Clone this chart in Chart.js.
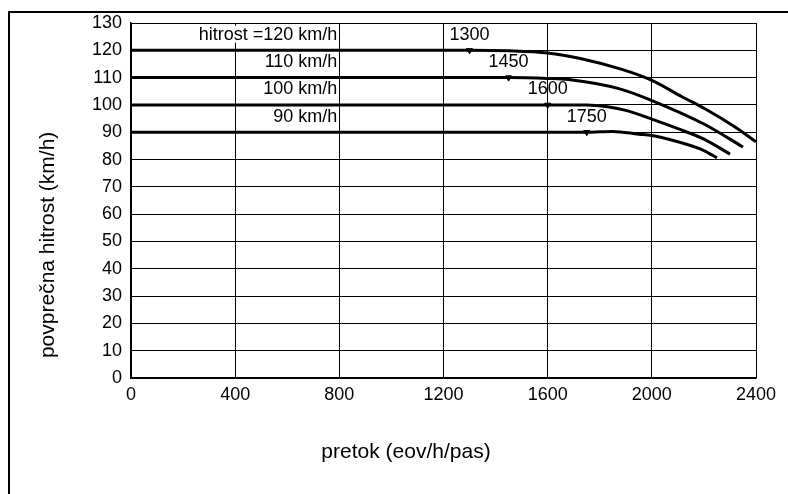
<!DOCTYPE html>
<html>
<head>
<meta charset="utf-8">
<style>
  html, body { margin: 0; padding: 0; background: #fff; }
  #wrap { width: 788px; height: 494px; position: relative; }
</style>
<script src="https://cdn.jsdelivr.net/npm/chart.js@4.4.1/dist/chart.umd.min.js"></script>
</head>
<body>
<div id="wrap"><canvas id="c" width="788" height="494"></canvas></div>
<script>
// Speed-flow curves for basic freeway segments, one per free-flow speed
const freeFlowSpeeds = [120, 110, 100, 90];
const breakpoints = [1300, 1450, 1600, 1750];
const speedLabels = ['hitrost =120 km/h', '110 km/h', '100 km/h', '90 km/h'];

const flow120 = [0, 1300, 1450, 1600, 1725, 1885, 2000, 2116, 2204, 2318, 2400];
const speed120 = [120, 120, 119.8, 119, 117, 113, 109, 103, 98.6, 92, 86.5];

const flow110 = [0, 1450, 1600, 1680, 1880, 2000, 2200, 2350];
const speed110 = [110, 110, 109.7, 109.3, 105.8, 101.6, 93, 84.6];

const flow100 = [0, 1600, 1750, 1830, 1900, 2000, 2100, 2200, 2300];
const speed100 = [100, 100, 100, 99.3, 98, 94.8, 91.3, 87.5, 82];

const flow90 = [0, 1750, 1850, 1950, 2000, 2100, 2200, 2250];
const speed90 = [90, 90, 90.3, 89.3, 88.8, 86.5, 83.3, 80.6];

const xTicks = [0, 400, 800, 1200, 1600, 2000, 2400];
const yMax = 130;

const FONT = '"Liberation Sans", Arial, sans-serif';

function toPoints(xs, ys) {
  return xs.map((x, i) => ({ x: x, y: ys[i] }));
}

function curve(xs, ys) {
  return {
    data: toPoints(xs, ys),
    borderColor: '#000',
    borderWidth: 3,
    pointRadius: 0,
    cubicInterpolationMode: 'monotone',
    fill: false
  };
}

// page frame, background and axis titles
const framePlugin = {
  id: 'frame',
  beforeDraw(chart) {
    const c = chart.ctx;
    c.save();
    c.fillStyle = '#fff';
    c.fillRect(0, 0, chart.width, chart.height);
    c.fillStyle = '#000';
    c.fillRect(8, 11, 2, chart.height - 11);
    c.fillRect(8, 11, chart.width - 8, 2);
    c.restore();
  },
  afterDraw(chart) {
    const a = chart.chartArea;
    const c = chart.ctx;
    c.save();
    c.fillStyle = '#000';
    c.font = '21px ' + FONT;
    c.textAlign = 'center';
    c.textBaseline = 'middle';
    c.fillText('pretok (eov/h/pas)', a.left + (a.right - a.left) * 0.44, a.bottom + 74);
    c.translate(48, a.top + (a.bottom - a.top) * 0.625);
    c.rotate(-Math.PI / 2);
    c.fillText('povprečna hitrost (km/h)', 0, 0);
    c.restore();
  }
};

// curve names and breakpoint flows written above each curve
const labelPlugin = {
  id: 'curveLabels',
  afterDatasetsDraw(chart) {
    const xs = chart.scales.x, ys = chart.scales.y;
    const c = chart.ctx;
    c.save();
    c.font = '18px ' + FONT;
    c.textBaseline = 'middle';
    freeFlowSpeeds.forEach((s, i) => {
      const y = ys.getPixelForValue(s + 5.7);
      const right = xs.getPixelForValue(800) - 2;
      const w = c.measureText(speedLabels[i]).width;
      c.fillStyle = '#fff';
      c.fillRect(right - w - 1, y - 9, w + 1, 17);
      c.fillStyle = '#000';
      c.textAlign = 'right';
      c.fillText(speedLabels[i], right, y);
      c.textAlign = 'center';
      c.fillText(String(breakpoints[i]), xs.getPixelForValue(breakpoints[i]), y);
    });
    c.restore();
  }
};

new Chart(document.getElementById('c'), {
  type: 'line',
  data: {
    datasets: [
      curve(flow120, speed120),
      curve(flow110, speed110),
      curve(flow100, speed100),
      curve(flow90, speed90),
      {
        data: toPoints(breakpoints, freeFlowSpeeds),
        showLine: false,
        pointStyle: 'triangle',
        rotation: 180,
        pointRadius: 3.5,
        pointBackgroundColor: '#000',
        pointBorderColor: '#000',
        pointBorderWidth: 1
      }
    ]
  },
  options: {
    responsive: false,
    animation: false,
    events: [],
    layout: { padding: { top: 23, right: 32, left: 0, bottom: 0 } },
    plugins: { legend: { display: false }, tooltip: { enabled: false } },
    scales: {
      x: {
        type: 'linear',
        min: 0,
        max: 2400,
        afterBuildTicks(scale) { scale.ticks = xTicks.map(v => ({ value: v })); },
        afterFit(scale) { scale.height = 116; },
        ticks: {
          color: '#000',
          font: { family: FONT, size: 18 },
          padding: 6,
          maxRotation: 0,
          callback: v => String(v)
        },
        grid: { color: '#000', lineWidth: 1, drawTicks: false },
        border: { color: '#000', width: 1.5 }
      },
      y: {
        min: 0,
        max: yMax,
        afterFit(scale) { scale.width = 131; },
        ticks: {
          stepSize: 10,
          color: '#000',
          font: { family: FONT, size: 18 },
          padding: 9,
          callback: v => String(v)
        },
        grid: { color: '#000', lineWidth: 1, drawTicks: false },
        border: { color: '#000', width: 1.5 }
      }
    }
  },
  plugins: [framePlugin, labelPlugin]
});
</script>
</body>
</html>
